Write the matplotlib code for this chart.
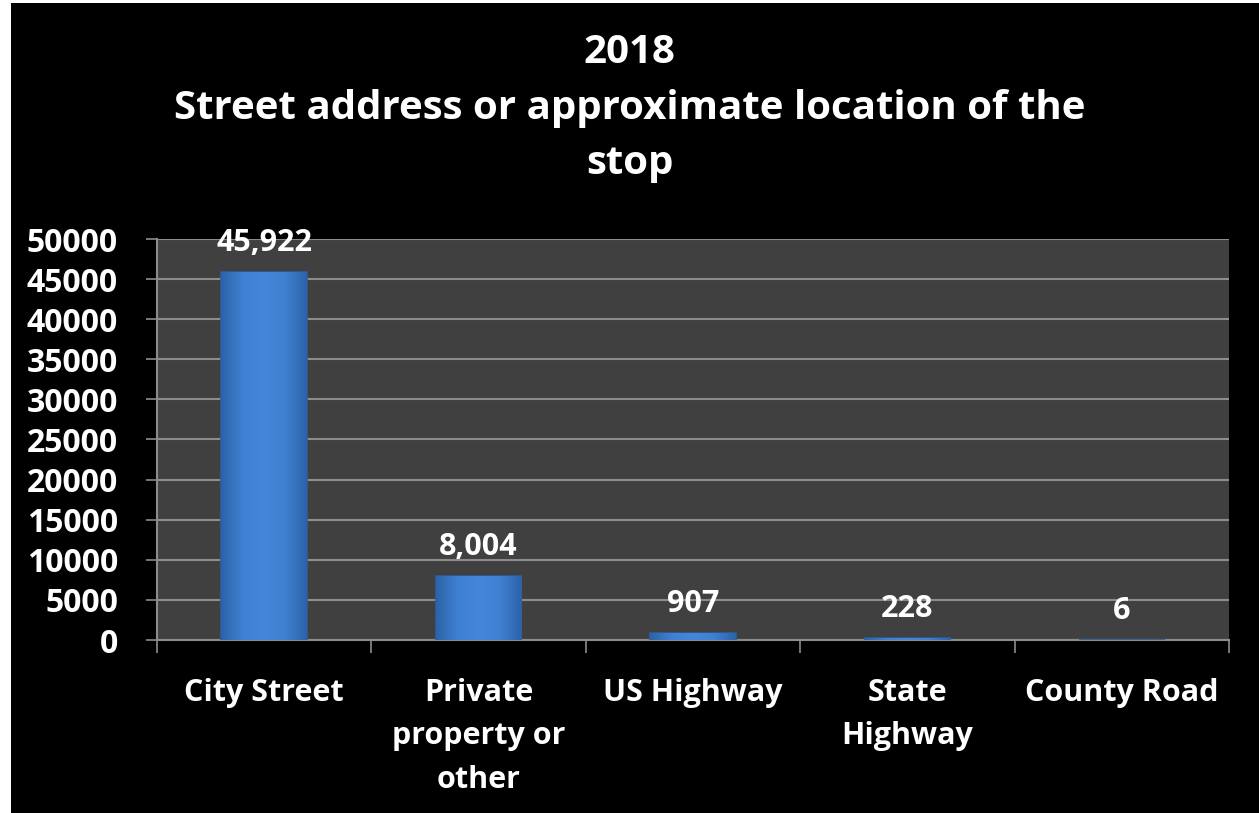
import matplotlib
matplotlib.use("Agg")
import matplotlib.pyplot as plt
from matplotlib.patches import Rectangle
from matplotlib.colors import LinearSegmentedColormap
import numpy as np

# stop locations, 2018
categories = ["City Street", "Private\nproperty or\nother", "US Highway", "State\nHighway", "County Road"]
counts = [45922, 8004, 907, 228, 6]
yticks = [0, 5000, 10000, 15000, 20000, 25000, 30000, 35000, 40000, 45000, 50000]
title = "2018\nStreet address or approximate location of the\nstop"

plt.rcParams['font.family'] = ['Open Sans', 'DejaVu Sans']
plt.rcParams['font.weight'] = 'bold'

fig = plt.figure(figsize=(12.59, 8.13), dpi=100, facecolor='black')
# thin white margin along the top and left edges
fig.patches.append(Rectangle((0, 0), 11 / 1259, 1, transform=fig.transFigure,
                             facecolor='white', edgecolor='none', zorder=-1))
fig.patches.append(Rectangle((0, 1 - 3 / 813), 1, 3 / 813, transform=fig.transFigure,
                             facecolor='white', edgecolor='none', zorder=-1))

ax = fig.add_axes([157 / 1259, 1 - 640 / 813, 1072 / 1259, 401 / 813])
ax.set_facecolor('#404040')

x = np.arange(len(categories))
bars = ax.bar(x, counts, width=0.4, color='#3b78c6', edgecolor='#2b5c9c', linewidth=1.2, zorder=3)

# shade each bar darker at the sides, lighter in the middle
shade = LinearSegmentedColormap.from_list('shade', ['#2d63a8', '#3f80d2', '#4586d8', '#3f80d2', '#2d63a8'])
grad = np.linspace(0, 1, 64).reshape(1, -1)
for b in bars:
    bx, by = b.get_x(), b.get_y()
    im = ax.imshow(grad, cmap=shade, aspect='auto', zorder=4,
                   extent=[bx, bx + b.get_width(), by, by + b.get_height()])
    im.set_clip_path(b)

for xi, v in zip(x, counts):
    ax.annotate(f"{v:,}", (xi, v), xytext=(0, 15), textcoords='offset points',
                ha='center', va='baseline', color='white', fontsize=22, fontweight='bold')

ax.set_xlim(-0.5, len(categories) - 0.5)
ax.set_ylim(0, 50000)
ax.set_yticks(yticks)
ax.set_yticklabels([str(t) for t in yticks])
ax.yaxis.grid(True, color='#8c8c8c', linewidth=1.5, zorder=1)
ax.set_axisbelow(True)

# category boundaries carry the tick marks, centres carry the labels
ax.set_xticks(np.arange(len(categories) + 1) - 0.5)
ax.set_xticklabels([])
ax.set_xticks(x, minor=True)
ax.set_xticklabels(categories, minor=True, fontsize=22, fontweight='bold', color='white', linespacing=1.6)
ax.tick_params(axis='x', which='major', length=9, color='#8c8c8c', width=1.2)
ax.tick_params(axis='x', which='minor', length=0, pad=27)
ax.tick_params(axis='y', length=8, color='#8c8c8c', width=1.2, pad=20, labelsize=23, labelcolor='white')
for lbl in ax.get_yticklabels():
    lbl.set_fontweight('bold')

for side in ['top', 'right']:
    ax.spines[side].set_visible(False)
for side in ['left', 'bottom']:
    ax.spines[side].set_color('#8c8c8c')
    ax.spines[side].set_linewidth(1.5)

fig.text(0.5, 1 - 33 / 813, title, ha='center', va='top', color='white',
         fontsize=29, fontweight='bold', linespacing=1.55)

fig.savefig("out.png", dpi=100, facecolor=fig.get_facecolor())
